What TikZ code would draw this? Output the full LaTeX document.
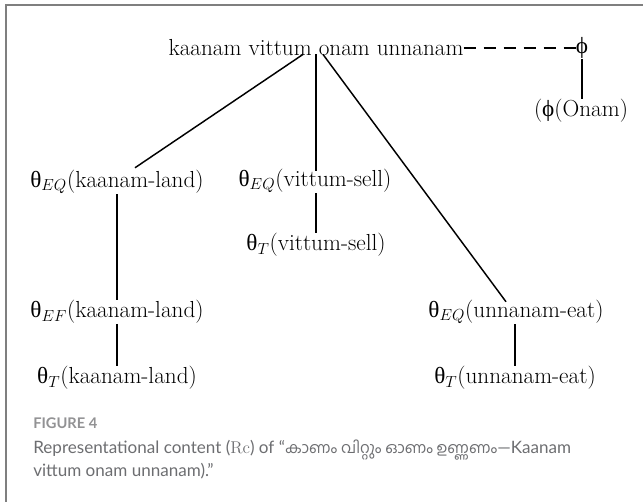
\documentclass[tikz,border=0pt]{standalone}
\usepackage{fontspec}
\usetikzlibrary{calc}
\newfontfamily\grk{Liberation Serif}
\newfontfamily\capf{Lato}
\newfontfamily\mal[Script=Malayalam,Scale=0.9]{Hind Kochi}
\definecolor{frame}{HTML}{7F7F7F}
\definecolor{captxt}{HTML}{6D6E71}
\newcommand\thet{{\grk θ}}
\newcommand\phisym{{\grk ϕ}}
\begin{document}
\begin{tikzpicture}[x=0.75pt,y=-0.75pt,
  lbl/.style={inner sep=0pt, font=\fontsize{17.4}{20}\selectfont},
  edge/.style={line width=1.1pt, black},
  capstyle/.style={inner sep=0pt, text=captxt, font=\capf\fontsize{12.8}{17.25}\selectfont, align=left, anchor=base west}]
\useasboundingbox (0,0) rectangle (643,502);
\draw[frame, line width=1.3pt] (6,502) -- (6,5) -- (643,5);

\node[lbl] (root) at (316,48) {kaanam vittum onam unnanam};
\node[lbl] (phi) at (582,48) {\phisym};
\node[lbl] (ophi) at (581,111) {(\phisym(Onam)};
\node[lbl] (kEQ) at (117,182) {\thet$_{EQ}$(kaanam-land)};
\node[lbl] (vEQ) at (315,181) {\thet$_{EQ}$(vittum-sell)};
\node[lbl] (vT) at (316,245) {\thet$_{T}$(vittum-sell)};
\node[lbl] (kEF) at (117,312) {\thet$_{EF}$(kaanam-land)};
\node[lbl] (kT) at (117,378) {\thet$_{T}$(kaanam-land)};
\node[lbl] (uEQ) at (516,312) {\thet$_{EQ}$(unnanam-eat)};
\node[lbl] (uT) at (515,378) {\thet$_{T}$(unnanam-eat)};

\draw[edge] ($(root.south)+(-13,-2)$) -- ($(kEQ.north)+(18,-2)$);
\draw[edge] ($(root.south)+(0,-2)$) -- ($(root.south |- vEQ.north)+(0,2)$);
\draw[edge] ($(root.south)+(7,-2)$) -- ($(uEQ.north)+(-10,2)$);
\draw[edge, dashed, dash pattern=on 9pt off 6pt] (root.east) -- (phi.west);
\draw[edge] (phi.south) -- (ophi.north -| phi.south);
\draw[edge] (kEQ.south) -- (kEF.north);
\draw[edge] (kEF.south) -- (kT.north);
\draw[edge] (vEQ.south -| vT.north) -- (vT.north);
\draw[edge] (uEQ.south -| uT.north) -- (uT.north);

\node[capstyle, font=\capf\bfseries\fontsize{11}{13}\selectfont, text=captxt!75] (fig) at (33,429) {FIGURE 4};
\node[capstyle] (cap) at (33,476) {Representational content ({\rmfamily Rc}) of “{\mal കാണം വിറ്റും ഓണം ഉണ്ണണം}—Kaanam\\vittum onam unnanam).”};
\end{tikzpicture}
\end{document}
